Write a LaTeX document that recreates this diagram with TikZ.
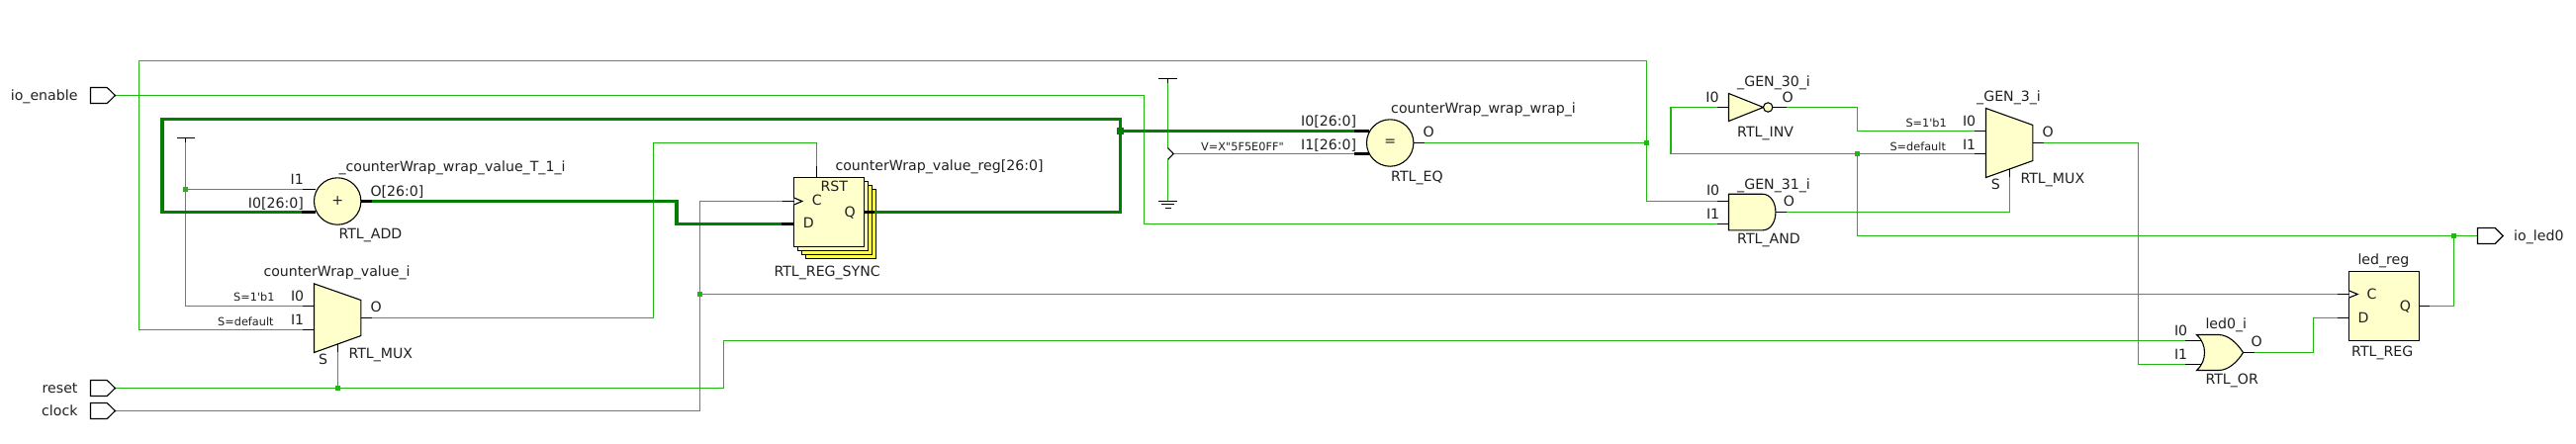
\documentclass[tikz,border=0pt]{standalone}
\usepackage{fontspec}
\newfontfamily\djv{DejaVu Sans}
\definecolor{wirec}{HTML}{1FB80F}
\definecolor{busc}{HTML}{007F00}
\definecolor{cellc}{HTML}{FFFFCC}
\definecolor{backc}{HTML}{FFFF55}
\definecolor{txtc}{HTML}{202020}
\tikzset{
  wire/.style={draw=wirec,line width=1.2pt},
  cbus/.style={draw=wirec,line width=1.7pt},
  bus/.style={draw=busc,line width=3.2pt,line join=miter},
  stub/.style={draw=black,line width=1.1pt},
  bstub/.style={draw=black,line width=3.2pt},
  gate/.style={draw=black,fill=cellc,line width=1.1pt,line join=miter},
  port/.style={draw=black,fill=white,line width=1.1pt},
  lbl/.style={inner sep=0pt,outer sep=0pt,text=txtc,font=\djv\fontsize{14.15}{16}\selectfont},
  slbl/.style={inner sep=0pt,outer sep=0pt,text=txtc,font=\djv\fontsize{11.3}{13}\selectfont},
  lw/.style={lbl,anchor=base west},
  le/.style={lbl,anchor=base east},
  slw/.style={slbl,anchor=base west},
  jn/.style={fill=wirec,inner sep=0pt,minimum size=5pt,rectangle},
  jnb/.style={fill=busc,inner sep=0pt,minimum size=7pt,rectangle},
  circ/.style={gate,circle,inner sep=0pt,minimum size=47.4pt,text=txtc,font=\djv\fontsize{14.15}{16}\selectfont},
  box/.style={gate,rectangle,inner sep=0pt,minimum width=71.2pt,minimum height=70pt}
}
\begin{document}
\begin{tikzpicture}[x=1pt,y=-1pt]
\useasboundingbox (0,0) rectangle (2604,448);
\fill[white] (0,0) rectangle (2604,448);
\begin{scope}[shift={(0.2,0.2)}]
% ports tips
\coordinate (pen) at (116.3,96.3);
\coordinate (prs) at (116.3,392.3);
\coordinate (pck) at (116.3,415.3);
\coordinate (pled) at (2504.3,238.3);
% junctions and bends
\coordinate (jeq) at (1664.3,144.3);
\coordinate (cwraptop) at (140.3,61.3);
\coordinate (cen) at (1156.3,226.3);
\coordinate (cqr) at (1132.3,214.3);
\coordinate (jq) at (1132.3,132.3);
\coordinate (cqt) at (1132.3,120.3);
\coordinate (cql) at (163.7,214.3);
\coordinate (cad) at (683.7,226.3);
\coordinate (jv) at (187.3,191.3);
\coordinate (jrs) at (341.3,392.3);
\coordinate (crs) at (731.3,344.3);
\coordinate (jck) at (707.3,297.3);
\coordinate (cm1) at (660.3,144.3);
\coordinate (cinv) at (1877.3,132.3);
\coordinate (cfb) at (1688.7,155.3);
\coordinate (jfb) at (1877.3,155.3);
\coordinate (jled) at (2480.3,238.3);
\coordinate (cm2) at (2161.3,368.3);
\coordinate (cor) at (2338.3,321.3);
% pins: stub ends
\coordinate (a0s) at (305,214.3);
\coordinate (a0p) at (319,214.3);
\coordinate (a1s) at (306,191.3);
\coordinate (a1p) at (319,191.3);
\coordinate (aos) at (376,203.3);
\coordinate (aop) at (364.7,203.3);
\coordinate (m0s) at (306,309.3);
\coordinate (m0p) at (317.3,309.3);
\coordinate (m1s) at (306,333.3);
\coordinate (m1p) at (317.3,333.3);
\coordinate (mos) at (376,321.3);
\coordinate (mop) at (364.7,321.3);
\coordinate (mss) at (341.3,356);
\coordinate (msp) at (341.3,347.7);
\coordinate (rsts) at (825.3,168);
\coordinate (rstp) at (825.3,179.3);
\coordinate (rcs) at (791,203.3);
\coordinate (rcp) at (802.3,203.3);
\coordinate (rds) at (790,226.3);
\coordinate (rdp) at (802.3,226.3);
\coordinate (rqs) at (884,214.3);
\coordinate (rqp) at (873.3,214.3);
\coordinate (e0s) at (1369,132.3);
\coordinate (e0p) at (1384,132.3);
\coordinate (e1s) at (1369,155.3);
\coordinate (e1p) at (1384,155.3);
\coordinate (eos) at (1440,144.3);
\coordinate (eop) at (1428.7,144.3);
\coordinate (ii) at (1736,108.3);
\coordinate (iip) at (1747.3,108.3);
\coordinate (ios) at (1806,108.3);
\coordinate (iop) at (1791.7,108.3);
\coordinate (n0s) at (1736,203.3);
\coordinate (n0p) at (1747.3,203.3);
\coordinate (n1s) at (1736,226.3);
\coordinate (n1p) at (1747.3,226.3);
\coordinate (nos) at (1806,214.3);
\coordinate (nop) at (1794.7,214.3);
\coordinate (x0s) at (1996,132.3);
\coordinate (x0p) at (2007.3,132.3);
\coordinate (x1s) at (1996,155.3);
\coordinate (x1p) at (2007.3,155.3);
\coordinate (xos) at (2066,144.3);
\coordinate (xop) at (2054.7,144.3);
\coordinate (xss) at (2031.3,179);
\coordinate (xsp) at (2031.3,171);
\coordinate (o0s) at (2209,344.3);
\coordinate (o0p) at (2226,344.3);
\coordinate (o1s) at (2209,368.3);
\coordinate (o1p) at (2226,368.3);
\coordinate (oos) at (2279,356.3);
\coordinate (oop) at (2267.3,356.3);
\coordinate (gcs) at (2363,297.3);
\coordinate (gcp) at (2374.3,297.3);
\coordinate (gds) at (2363,321.3);
\coordinate (gdp) at (2374.3,321.3);
\coordinate (gqs) at (2456,309.3);
\coordinate (gqp) at (2445.7,309.3);
% constants
\coordinate (v1t) at (187.3,139.3);
\coordinate (v1s) at (187.3,143.3);
\coordinate (v2t) at (1180.3,79.3);
\coordinate (v2s) at (1180.3,83.7);
\coordinate (ch1) at (1180.3,149.3);
\coordinate (cht) at (1186,155.3);
\coordinate (ch2) at (1180.3,161.3);
\coordinate (gnd) at (1180.3,203.3);
% thin wires
\draw[wire] (eos) -- (jeq);
\draw[wire] (jeq) |- (cwraptop) |- (m1s);
\draw[wire] (jeq) |- (n0s);
\draw[wire] (pen) -| (cen) -- (n1s);
\draw[wire] (v1s) -- (jv) -- (a1s);
\draw[wire] (jv) |- (m0s);
\draw[wire] (prs) -- (jrs) -| (crs) -- (o0s);
\draw[wire] (jrs) -- (mss);
\draw[wire] (pck) -| (jck) |- (rcs);
\draw[wire] (jck) -- (gcs);
\draw[wire] (mos) -| (cm1) -| (rsts);
\draw[wire] (v2s) -- (ch1);
\draw[wire] (ch2) -- (gnd);
\draw[cbus] (cht) -- (e1s);
\draw[wire] (ios) -| (cinv) -- (x0s);
\draw[wire] (ii) -| (cfb) -- (jfb) -- (x1s);
\draw[wire] (jfb) |- (jled) -- (pled);
\draw[wire] (nos) -| (xss);
\draw[wire] (xos) -| (cm2) -- (o1s);
\draw[wire] (oos) -| (cor) -- (gds);
\draw[wire] (gqs) -| (jled);
% ports
\draw[port] (91.3,88.3) -- (108,88.3) -- (pen) -- (108,104.3) -- (91.3,104.3) -- cycle;
\draw[port] (91.3,384.3) -- (108,384.3) -- (prs) -- (108,400.3) -- (91.3,400.3) -- cycle;
\draw[port] (91.3,407.3) -- (108,407.3) -- (pck) -- (108,423.3) -- (91.3,423.3) -- cycle;
\draw[port] (pled) -- (2504.3,230.3) -- (2522,230.3) -- (2530,238.3) -- (2522,246.3) -- (2504.3,246.3) -- cycle;
% cells
\node[circ] (add) at (341,203.3) {+};
\node[circ] (eq) at (1405,144.3) {=};
\draw[gate] (317.3,286.7) -- (364.7,303.3) -- (364.7,339.3) -- (317.3,356.3) -- cycle;
\draw[gate] (2007.3,109.3) -- (2054.7,126.3) -- (2054.7,162.3) -- (2007.3,179.3) -- cycle;
\node[box,fill=backc] (rb3) at (849.7,226.3) {};
\node[box,fill=backc] (rb2) at (845.7,222.3) {};
\node[box] (rb1) at (841.7,218.3) {};
\node[box] (rb0) at (837.7,214.3) {};
\node[box] (lreg) at (2410,309.3) {};
\draw[port] (802.3,199.7) -- (810.7,203.3) -- (802.3,206.9);
\draw[port] (2374.3,293.7) -- (2383,297.3) -- (2374.3,300.9);
\draw[gate] (1747.3,94.3) -- (1782.3,108.3) -- (1747.3,122.3) -- cycle;
\node[gate,circle,inner sep=0pt,minimum size=9.4pt] (bub) at (1787,108.3) {};
\draw[gate] (1747.3,196) -- (1781,196) .. controls (1790,196) and (1794.7,205) .. (1794.7,214.3) .. controls (1794.7,224) and (1790,232.7) .. (1781,232.7) -- (1747.3,232.7) -- cycle;
\draw[gate] (2220.3,338.3) -- (2242.3,338.3) .. controls (2253,338.3) and (2262,348) .. (2267.3,356.3) .. controls (2262,365) and (2253,374.3) .. (2242.3,374.3) -- (2220.3,374.3) .. controls (2226,369) and (2228.3,363) .. (2228.3,356.3) .. controls (2228.3,350) and (2226,343.5) .. (2220.3,338.3) -- cycle;
% buses
\draw[bus] (rqs) -- (cqr) -- (cqt) -| (cql) -- (a0s);
\draw[bus] (jq) -- (e0s);
\draw[bus] (aos) -| (cad) -- (rds);
% black pin stubs
\foreach \a/\b in {a1s/a1p,m0s/m0p,m1s/m1p,mos/mop,mss/msp,rsts/rstp,rcs/rcp,eos/eop,ii/iip,ios/iop,n0s/n0p,n1s/n1p,nos/nop,x0s/x0p,x1s/x1p,xos/xop,xss/xsp,o0s/o0p,o1s/o1p,oos/oop,gcs/gcp,gds/gdp,gqs/gqp,v1t/v1s,v2t/v2s}
  \draw[stub] (\a) -- (\b);
\foreach \a/\b in {a0s/a0p,aos/aop,rds/rdp,rqs/rqp,e0s/e0p,e1s/e1p}
  \draw[bstub] (\a) -- (\b);
% constant symbols
\draw[stub] (178.3,139.3) -- (196.7,139.3);
\draw[stub] (1171,79.3) -- (1189.7,79.3);
\draw[stub] (ch1) -- (cht) -- (ch2);
\draw[stub] (1171,203.3) -- (1189.7,203.3);
\draw[stub] (1173.7,206.7) -- (1187,206.7);
\draw[stub] (1177.7,210) -- (1183.3,210);
% junction dots
\node[jn] (djv) at (jv) {};
\node[jn] (djr) at (jrs) {};
\node[jn] (djc) at (jck) {};
\node[jn] (dje) at (jeq) {};
\node[jn] (djf) at (jfb) {};
\node[jn] (djl) at (jled) {};
\node[jnb] (djq) at (jq) {};
% labels
\node[le] (tena) at (78.3,101) {io\_enable};
\node[le] (trst) at (78.3,397) {reset};
\node[le] (tclk) at (78.3,420.3) {clock};
\node[lw] (tled) at (2541,243) {io\_led0};
\node[le] (ta1) at (306.7,186) {I1};
\node[le] (ta0) at (306.7,210) {I0[26:0]};
\node[lw] (tao) at (374.3,198) {O[26:0]};
\node[lw] (tan) at (342.3,173.3) {\_counterWrap\_wrap\_value\_T\_1\_i};
\node[lw] (tat) at (342.3,241.7) {RTL\_ADD};
\node[lw] (tmn) at (266.3,279.3) {counterWrap\_value\_i};
\node[le] (tm0) at (307,304.3) {I0};
\node[le] (tm1) at (307,328.3) {I1};
\node[lw] (tmo) at (374.3,315.7) {O};
\node[lw] (tms) at (322,368) {S};
\node[lw] (tmt) at (352.3,362) {RTL\_MUX};
\node[slw] (tms1) at (236,304.5) {S=1'b1};
\node[slw] (tms2) at (220,328.8) {S=default};
\node[lw] (trr) at (829.3,193) {RST};
\node[lw] (trc) at (820.7,207) {C};
\node[lw] (trd) at (811.7,230.7) {D};
\node[lw] (trq) at (853.3,219) {Q};
\node[lw] (trt) at (782.3,279) {RTL\_REG\_SYNC};
\node[lw] (trn) at (844.3,172) {counterWrap\_value\_reg[26:0]};
\node[slw] (tv) at (1214,152) {V=X"5F5E0FF"};
\node[le] (te0) at (1371,127) {I0[26:0]};
\node[le] (te1) at (1371,151) {I1[26:0]};
\node[lw] (ten) at (1406,114) {counterWrap\_wrap\_wrap\_i};
\node[lw] (teo) at (1438.3,138.7) {O};
\node[lw] (tet) at (1406,183) {RTL\_EQ};
\node[lw] (tin) at (1756,87) {\_GEN\_30\_i};
\node[le] (ti0) at (1737.3,103.3) {I0};
\node[lw] (tio) at (1801.3,103) {O};
\node[lw] (tit) at (1756,138) {RTL\_INV};
\node[lw] (tnn) at (1756,191) {\_GEN\_31\_i};
\node[le] (tn0) at (1738,197) {I0};
\node[le] (tn1) at (1738,221) {I1};
\node[lw] (tno) at (1802.7,208.7) {O};
\node[lw] (tnt) at (1756,246) {RTL\_AND};
\node[lw] (txn) at (1998,102) {\_GEN\_3\_i};
\node[le] (tx0) at (1997,127) {I0};
\node[le] (tx1) at (1997,151) {I1};
\node[lw] (txo) at (2064.3,138.7) {O};
\node[lw] (txs) at (2012.7,191) {S};
\node[lw] (txt) at (2042.3,185) {RTL\_MUX};
\node[slw] (txs1) at (1926.3,127.8) {S=1'b1};
\node[slw] (txs2) at (1910.3,151.8) {S=default};
\node[le] (to0) at (2211,339) {I0};
\node[le] (to1) at (2211,363) {I1};
\node[lw] (too) at (2275.3,350.7) {O};
\node[lw] (ton) at (2229.3,332.7) {led0\_i};
\node[lw] (tot) at (2229.3,388) {RTL\_OR};
\node[lw] (tgn) at (2383.3,267.3) {led\_reg};
\node[lw] (tgt) at (2377,360) {RTL\_REG};
\node[lw] (tgc) at (2392.3,302) {C};
\node[lw] (tgd) at (2383.3,326) {D};
\node[lw] (tgq) at (2425.7,314) {Q};
\end{scope}
\end{tikzpicture}
\end{document}
